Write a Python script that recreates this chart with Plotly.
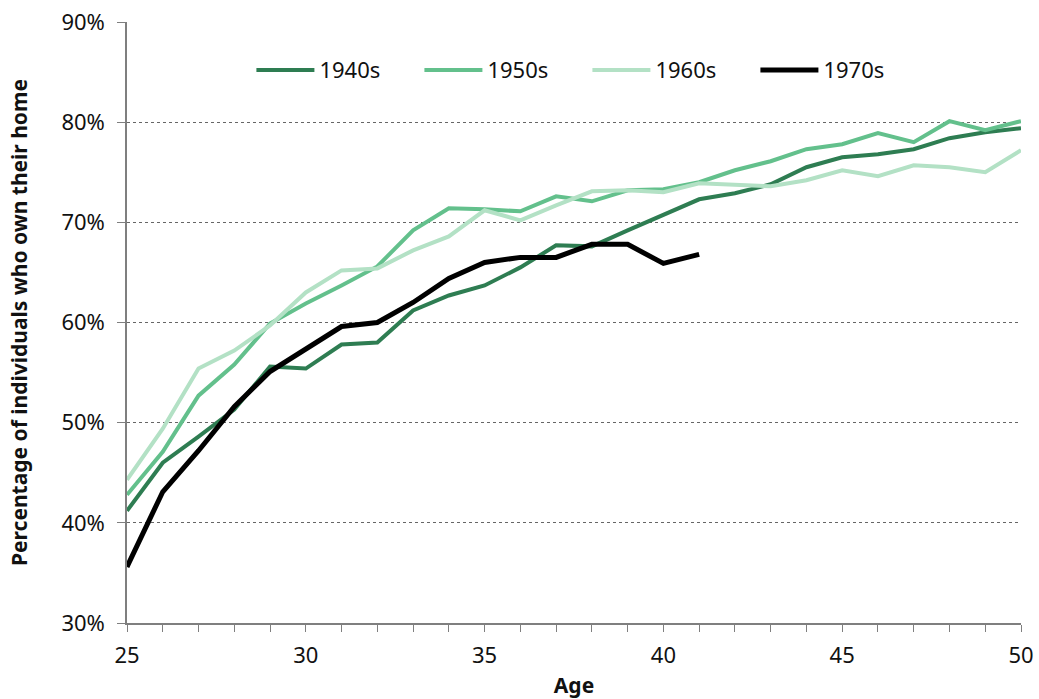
import plotly.graph_objects as go

ages = list(range(25, 51))
s1940 = [41.2, 46.0, 48.6, 51.3, 55.6, 55.4, 57.8, 58.0, 61.2, 62.7, 63.7, 65.5, 67.7, 67.6, 69.2, 70.8,
         72.3, 72.9, 73.8, 75.5, 76.5, 76.8, 77.3, 78.4, 79.0, 79.4]
s1950 = [42.8, 47.1, 52.7, 55.8, 59.9, 61.9, 63.7, 65.6, 69.2, 71.4, 71.3, 71.1, 72.6, 72.1, 73.2, 73.3,
         74.0, 75.2, 76.1, 77.3, 77.8, 78.9, 78.0, 80.1, 79.2, 80.1]
s1960 = [44.3, 49.4, 55.4, 57.2, 59.7, 63.0, 65.2, 65.4, 67.2, 68.6, 71.2, 70.2, 71.7, 73.1, 73.2, 73.0,
         73.9, 73.8, 73.6, 74.2, 75.2, 74.6, 75.7, 75.5, 75.0, 77.2]
s1970 = [35.6, 43.1, 47.2, 51.6, 55.1, 57.3, 59.6, 60.0, 62.0, 64.4, 66.0, 66.5, 66.5, 67.8, 67.8, 65.9, 66.8]

series = [
    ("1940s", s1940, "#2e7d52", 4),
    ("1950s", s1950, "#63c08c", 4),
    ("1960s", s1960, "#b3e1c5", 4),
    ("1970s", s1970, "#000000", 5),
]

y_ticks = [30, 40, 50, 60, 70, 80, 90]
y_tick_labels = [f"{v}%" for v in y_ticks]

font_family = "Noto Sans, Open Sans, DejaVu Sans, sans-serif"

fig = go.Figure()
for name, vals, color, w in series:
    fig.add_trace(go.Scatter(
        x=ages[:len(vals)], y=vals, name=name, mode="lines",
        line=dict(color=color, width=w),
    ))

fig.update_layout(
    width=1039, height=699,
    margin=dict(l=127, r=18, t=22, b=76),
    paper_bgcolor="white", plot_bgcolor="white",
    font=dict(family=font_family, size=22, color="#111111"),
    showlegend=True,
    legend=dict(
        orientation="h", x=0.515, xanchor="center", y=0.92, yanchor="middle",
        font=dict(size=22, color="#111111"), itemwidth=58,
        entrywidth=95, entrywidthmode="pixels",
        bgcolor="rgba(0,0,0,0)", traceorder="normal",
    ),
    xaxis=dict(
        range=[25, 50], tickmode="linear", tick0=25, dtick=5, automargin=False,
        showgrid=False, zeroline=False,
        showline=True, linecolor="#7f7f7f", linewidth=1.5,
        ticks="outside", ticklen=7, tickcolor="#7f7f7f", tickwidth=1.2,
        minor=dict(dtick=1, ticks="outside", ticklen=7, tickcolor="#7f7f7f", tickwidth=1.2, showgrid=False),
        title=dict(text="<b>Age</b>", font=dict(size=21), standoff=10),
        tickfont=dict(size=22), ticklabelstandoff=5,
    ),
    yaxis=dict(
        range=[30, 90], tickmode="array", tickvals=y_ticks, ticktext=y_tick_labels, automargin=False,
        showgrid=True, gridcolor="#666666", griddash="dot", gridwidth=1.2,
        zeroline=False,
        showline=True, linecolor="#7f7f7f", linewidth=1.5,
        ticks="outside", ticklen=8, tickcolor="#7f7f7f", tickwidth=1.2,
        title=dict(text="<b>Percentage of individuals who own their home</b>", font=dict(size=21), standoff=28),
        tickfont=dict(size=22), ticklabelstandoff=8,
    ),
)

fig.write_html("out.html", config={"displayModeBar": False},
               post_script="document.body.style.margin='0';document.body.style.overflow='hidden';")
